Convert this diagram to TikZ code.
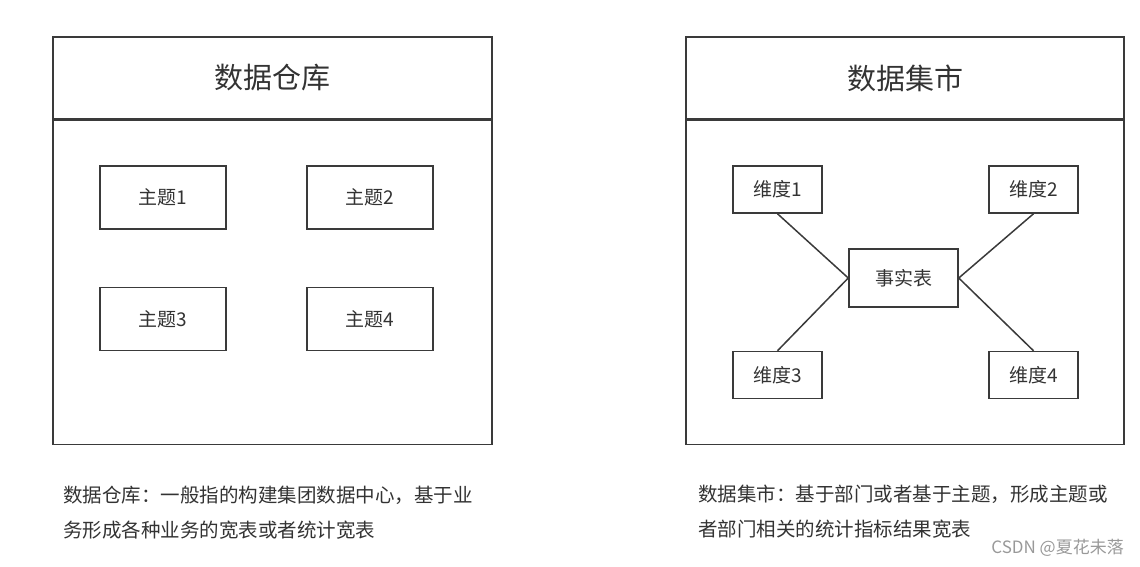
\documentclass[tikz,border=0pt]{standalone}
\usepackage{fontspec}
\setmainfont{Noto Sans CJK SC}
\usepackage{xcolor}
\usetikzlibrary{
    calc,
    positioning
}
\definecolor{linegray}{HTML}{3A3A3A}
\definecolor{textgray}{HTML}{333333}
\tikzset{
    frame/.style={draw=linegray, line width=1.5pt, minimum width=439pt, inner sep=0pt},
    titlebox/.style={frame, minimum height=82pt, font=\fontsize{29}{34}\selectfont, text=textgray},
    bodybox/.style={frame, minimum height=324pt},
    topic/.style={draw=linegray, line width=1.5pt, minimum width=126pt, minimum height=63pt, inner sep=0pt, font=\fontsize{19}{23}\selectfont, text=textgray},
    dimbox/.style={topic, minimum width=89pt, minimum height=47pt},
    factbox/.style={topic, minimum width=109pt, minimum height=58pt},
    link/.style={draw=linegray, line width=1.5pt},
    caption/.style={anchor=west, align=left, inner sep=0pt, text=textgray, font=\fontsize{19.5}{35}\selectfont}
}

\begin{document}
\begin{tikzpicture}[x=1pt, y=-1pt]
    \useasboundingbox (0, 0) rectangle (1140, 566);
    % data warehouse
    \node[titlebox] (dwtitle) at (272.5, 78) {数据仓库};
    \node[bodybox, below=0pt of dwtitle] (dwbody) {};
    \node[topic] (topic1) at (163, 197.5) {主题1};
    \node[topic] (topic2) at (370, 197.5) {主题2};
    \node[topic] (topic3) at (163, 319) {主题3};
    \node[topic] (topic4) at (370, 319) {主题4};
    % data mart
    \node[titlebox, minimum width=438pt] (dmtitle) at (905, 78) {数据集市};
    \node[bodybox, minimum width=438pt, below=0pt of dmtitle] (dmbody) {};
    \node[factbox] (fact) at (903.5, 278) {事实表};
    \node[dimbox] (dim1) at (777.5, 189.5) {维度1};
    \node[dimbox] (dim2) at (1033.5, 189.5) {维度2};
    \node[dimbox] (dim3) at (777.5, 375) {维度3};
    \node[dimbox] (dim4) at (1033.5, 375) {维度4};
    \draw[link]
    (dim1.south) -- (fact.west)
    (dim3.north) -- (fact.west)
    (dim2.south) -- (fact.east)
    (dim4.north) -- (fact.east);
    % captions
    \node[caption] (dwnote) at (63, 512.5) {数据仓库：一般指的构建集团数据中心，基于业\\务形成各种业务的宽表或者统计宽表};
    \node[caption] (dmnote) at (698, 511.5) {数据集市：基于部门或者基于主题，形成主题或\\者部门相关的统计指标结果宽表};
    \node[anchor=east, inner sep=0pt, text=gray!80, font=\fontsize{17}{20}\selectfont] (mark) at (1124, 548) {CSDN @夏花未落};
\end{tikzpicture}
\end{document}
